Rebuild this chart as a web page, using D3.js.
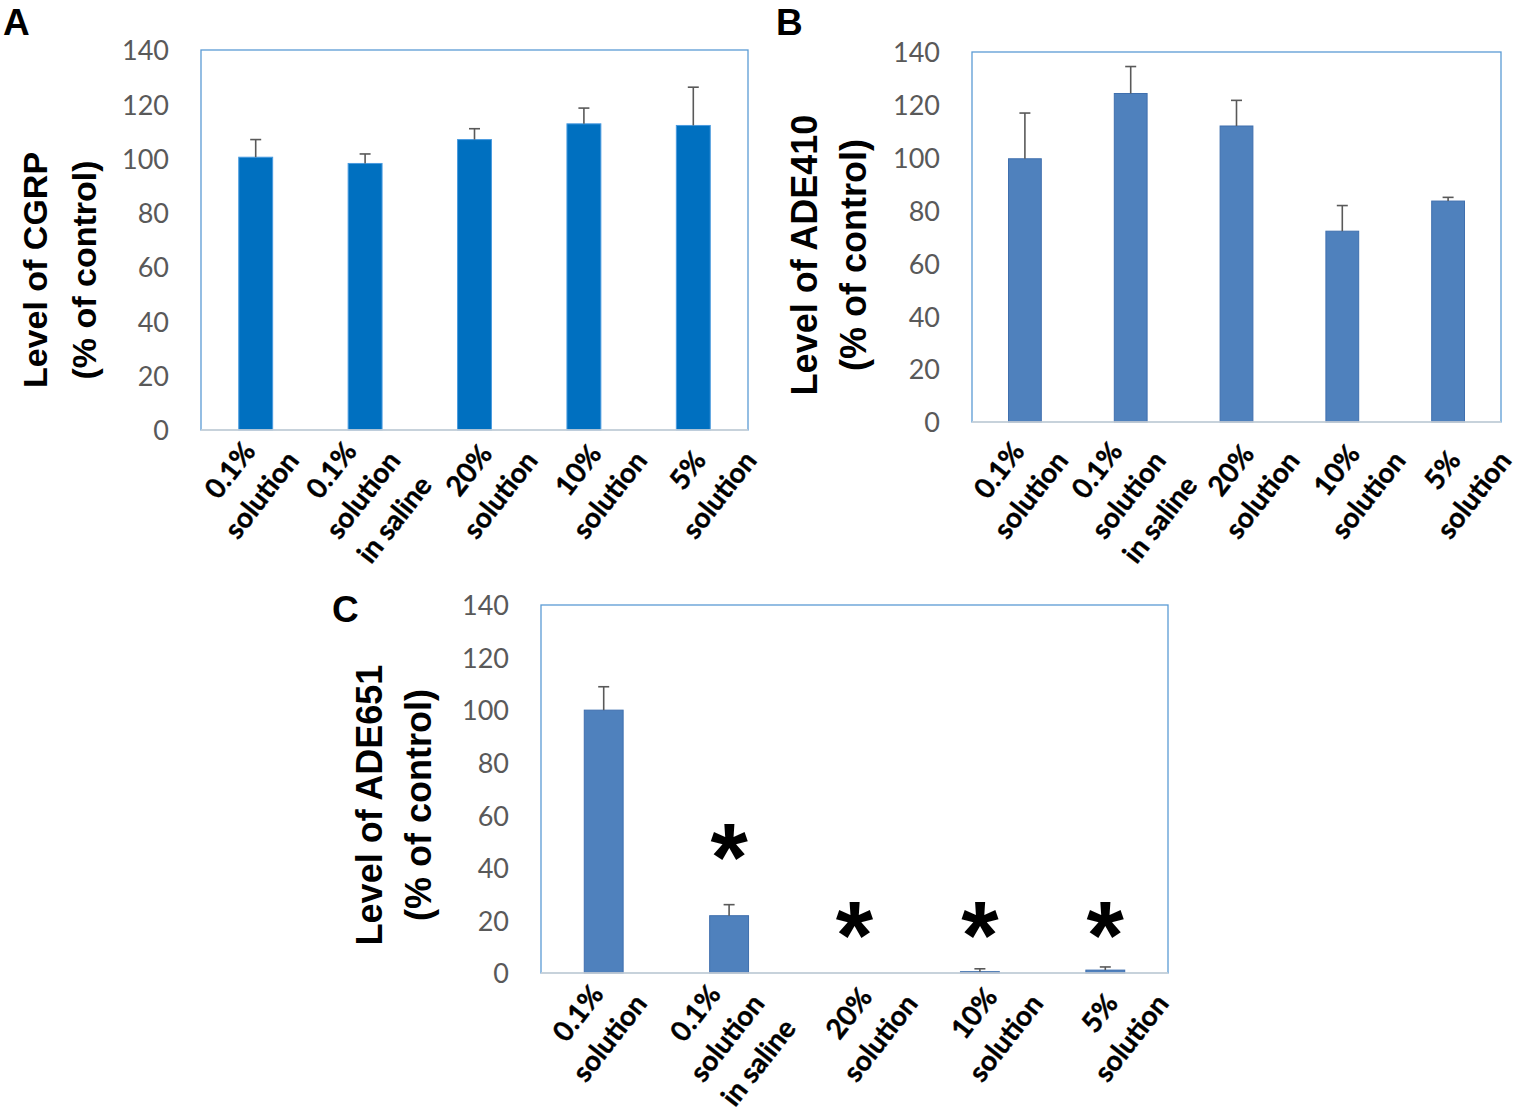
<!DOCTYPE html>
<html>
<head>
<meta charset="utf-8">
<script src="https://cdn.jsdelivr.net/npm/d3@7/dist/d3.min.js"></script>
<style>
  body { margin: 0; background: #fff; }
</style>
</head>
<body>
<div id="chart"></div>
<script>
// values (percent of control, mean and upper SEM)
const categories = ["0.1% solution", "0.1% solution in saline", "20% solution", "10% solution", "5% solution"];
const categoryLines = [["0.1%", "solution"], ["0.1%", "solution", "in saline"], ["20%", "solution"], ["10%", "solution"], ["5%", "solution"]];
const yTicks = [0, 20, 40, 60, 80, 100, 120, 140];

const cgrpMean = [100.5, 98.2, 107.0, 112.8, 112.2];
const cgrpErr = [6.5, 3.5, 4.0, 5.8, 14.1];

const ade410Mean = [99.6, 124.3, 112.0, 72.2, 83.6];
const ade410Err = [17.3, 10.2, 9.7, 9.7, 1.4];

const ade651Mean = [100.0, 21.8, 0, 0.5, 1.1];
const ade651Err = [8.9, 4.2, 0, 1.1, 1.2];
// asterisk annotations (level in data units where the star is centred)
const ade651Star = [null, 50, 20, 20, 20];

// per-label horizontal nudge, the first two labels sit further left in the original
const labelShift = [-20, -28, 0, 0, 0];

const panels = [
  {
    letter: "A", letterX: 3, letterY: 35,
    box: { x0: 201, x1: 748, y0: 50, y1: 430 },
    title: ["Level of CGRP", "(% of control)"], titleSize: 34, titleX: [47, 96], titleY: 270,
    labelDy: 40, fill: "#0070C0", stroke: "#4A9BDF",
    mean: cgrpMean, err: cgrpErr, stars: null
  },
  {
    letter: "B", letterX: 776, letterY: 35,
    box: { x0: 972, x1: 1501, y0: 52, y1: 422 },
    title: ["Level of ADE410", "(% of control)"], titleSize: 36, titleX: [817, 866], titleY: 255,
    labelDy: 48, fill: "#4F81BD", stroke: "#3F6FAE",
    mean: ade410Mean, err: ade410Err, stars: null
  },
  {
    letter: "C", letterX: 332, letterY: 622,
    box: { x0: 541, x1: 1168, y0: 605, y1: 973 },
    title: ["Level of ADE651", "(% of control)"], titleSize: 36, titleX: [382, 431], titleY: 805,
    labelDy: 40, fill: "#4F81BD", stroke: "#3F6FAE",
    mean: ade651Mean, err: ade651Err, stars: ade651Star
  }
];

const width = 1524;
const height = 1118;

const svg = d3.select("#chart")
  .append("svg")
  .attr("width", width)
  .attr("height", height)
  .style("background", "#fff");

function drawPanel(p) {
  const g = svg.append("g");
  const b = p.box;

  const x = d3.scaleBand()
    .domain(categories)
    .range([b.x0, b.x1])
    .paddingInner(0.69)
    .paddingOuter(0.345);

  const y = d3.scaleLinear().domain([0, 140]).range([b.y1, b.y0]);

  const rows = categories.map((c, i) => ({ cat: c, i, v: p.mean[i], e: p.err[i] }));

  // plot area border
  g.append("rect")
    .attr("x", b.x0)
    .attr("y", b.y0)
    .attr("width", b.x1 - b.x0)
    .attr("height", b.y1 - b.y0)
    .attr("fill", "none")
    .attr("stroke", "#5B9BD5")
    .attr("stroke-width", 1.3);

  // bars
  g.selectAll("rect.bar")
    .data(rows.filter((d) => d.v > 0))
    .enter()
    .append("rect")
    .attr("class", "bar")
    .attr("x", (d) => x(d.cat))
    .attr("y", (d) => y(d.v))
    .attr("width", x.bandwidth())
    .attr("height", (d) => y(0) - y(d.v))
    .attr("fill", p.fill)
    .attr("stroke", p.stroke)
    .attr("stroke-width", 1);

  // category axis line
  g.append("line")
    .attr("x1", b.x0)
    .attr("x2", b.x1)
    .attr("y1", y(0))
    .attr("y2", y(0))
    .attr("stroke", "#D9D9D9")
    .attr("stroke-width", 1.5);

  // upper error bars
  const eb = g.selectAll("g.err")
    .data(rows.filter((d) => d.e > 0))
    .enter()
    .append("g")
    .attr("class", "err")
    .attr("stroke", "#595959")
    .attr("stroke-width", 1.6);

  const cx = (d) => x(d.cat) + x.bandwidth() / 2;

  eb.append("line")
    .attr("x1", cx)
    .attr("x2", cx)
    .attr("y1", (d) => y(d.v))
    .attr("y2", (d) => y(d.v + d.e));

  eb.append("line")
    .attr("x1", (d) => cx(d) - 5.5)
    .attr("x2", (d) => cx(d) + 5.5)
    .attr("y1", (d) => y(d.v + d.e))
    .attr("y2", (d) => y(d.v + d.e));

  // y axis tick labels (no ticks drawn, like the original)
  const yAxis = d3.axisLeft(y).tickValues(yTicks).tickSize(0).tickPadding(32);
  const ya = g.append("g")
    .attr("transform", `translate(${b.x0},0)`)
    .call(yAxis);
  ya.select(".domain").remove();
  ya.selectAll("text")
    .attr("font-family", "Lato, 'Open Sans', sans-serif")
    .attr("font-size", 27)
    .attr("fill", "#595959")
    .attr("dy", "0.36em");

  // rotated category labels
  const lab = g.selectAll("g.xlab")
    .data(rows)
    .enter()
    .append("g")
    .attr("class", "xlab")
    .attr("transform", (d) => `translate(${cx(d) - 6 + labelShift[d.i]},${y(0) + p.labelDy}) rotate(-52)`);

  lab.selectAll("text")
    .data((d) => categoryLines[d.i])
    .enter()
    .append("text")
    .attr("x", 0)
    .attr("y", (t, j) => j * 40)
    .attr("dy", "0.36em")
    .attr("text-anchor", "middle")
    .attr("font-family", "Lato, 'Open Sans', sans-serif")
    .attr("font-weight", "bold")
    .attr("font-size", 28)
    .attr("fill", "#000")
    .attr("stroke", "#000")
    .attr("stroke-width", 0.4)
    .text((t) => t);

  // y axis title, two lines
  p.title.forEach((t, j) => {
    g.append("text")
      .attr("transform", `translate(${p.titleX[j]},${p.titleY}) rotate(-90)`)
      .attr("text-anchor", "middle")
      .attr("font-family", "'Liberation Sans', Arial, sans-serif")
      .attr("font-weight", "bold")
      .attr("font-size", p.titleSize)
      .attr("fill", "#000")
      .text(t);
  });

  // significance stars
  if (p.stars) {
    g.selectAll("text.star")
      .data(rows.filter((d) => p.stars[d.i] != null))
      .enter()
      .append("text")
      .attr("class", "star")
      .attr("x", cx)
      .attr("y", (d) => y(p.stars[d.i]))
      .attr("dy", "0.5em")
      .attr("text-anchor", "middle")
      .attr("font-family", "'Liberation Sans', Arial, sans-serif")
      .attr("font-weight", "bold")
      .attr("font-size", 96)
      .attr("fill", "#000")
      .text("*");
  }

  // panel letter
  svg.append("text")
    .attr("x", p.letterX)
    .attr("y", p.letterY)
    .attr("font-family", "'Liberation Sans', Arial, sans-serif")
    .attr("font-weight", "bold")
    .attr("font-size", 37)
    .attr("fill", "#000")
    .text(p.letter);
}

panels.forEach(drawPanel);
</script>
</body>
</html>
